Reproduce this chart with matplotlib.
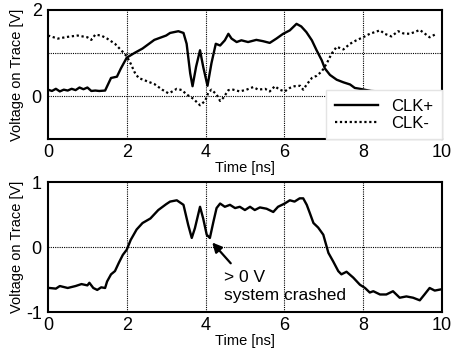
import matplotlib
matplotlib.use('Agg')
import matplotlib.pyplot as plt

plt.rcParams['font.family'] = ['Liberation Sans', 'DejaVu Sans']
plt.rcParams['axes.unicode_minus'] = False

# top plot: differential clock traces
clkp_t = [0.0, 0.1, 0.2, 0.3, 0.4, 0.5, 0.6, 0.7, 0.8, 0.9, 1.0, 1.1, 1.2, 1.3, 1.45,
          1.6, 1.75, 1.85, 2.0, 2.2, 2.4, 2.7, 3.0, 3.1, 3.31, 3.44, 3.52, 3.61, 3.67,
          3.76, 3.86, 3.94, 4.05, 4.15, 4.26, 4.37, 4.49, 4.58, 4.66, 4.79, 4.91, 5.08,
          5.29, 5.46, 5.63, 5.8, 5.97, 6.14, 6.31, 6.43, 6.56, 6.7, 6.82, 6.95, 7.03,
          7.16, 7.33, 7.5, 7.67, 7.79, 7.92, 8.2, 8.6, 9.0, 9.5, 10.0]
clkp_v = [0.15, 0.12, 0.17, 0.11, 0.15, 0.13, 0.17, 0.14, 0.2, 0.16, 0.2, 0.12, 0.13, 0.12, 0.13,
          0.42, 0.45, 0.64, 0.89, 1.0, 1.1, 1.3, 1.4, 1.46, 1.5, 1.46, 1.21, 0.53, 0.23,
          0.68, 1.06, 0.68, 0.24, 0.76, 1.21, 1.17, 1.29, 1.44, 1.33, 1.25, 1.29, 1.25,
          1.3, 1.27, 1.23, 1.33, 1.44, 1.52, 1.67, 1.61, 1.48, 1.29, 1.06, 0.83, 0.64,
          0.49, 0.38, 0.32, 0.27, 0.19, 0.17, 0.12, 0.1, 0.11, 0.1, 0.1]

clkm_t = [0.0, 0.25, 0.5, 0.75, 1.0, 1.1, 1.2, 1.35, 1.5, 1.7, 1.9, 2.0, 2.1, 2.2,
          2.3, 2.5, 2.7, 2.9, 3.05, 3.1, 3.27, 3.4, 3.52, 3.69, 3.86, 3.99, 4.07, 4.15,
          4.28, 4.37, 4.45, 4.58, 4.7, 4.87, 5.04, 5.21, 5.34, 5.51, 5.63, 5.76, 5.88,
          6.01, 6.14, 6.26, 6.4, 6.48, 6.57, 6.7, 6.82, 6.95, 7.08, 7.2, 7.33, 7.5,
          7.67, 7.83, 8.0, 8.17, 8.3, 8.43, 8.55, 8.72, 8.89, 9.02, 9.18, 9.31, 9.44,
          9.56, 9.69, 9.82]
clkm_v = [1.4, 1.33, 1.37, 1.4, 1.36, 1.3, 1.42, 1.4, 1.33, 1.21, 1.02, 0.92, 0.75, 0.55,
          0.42, 0.35, 0.28, 0.15, 0.07, 0.08, 0.17, 0.14, 0.04, -0.06, -0.21, -0.11, 0.08, 0.15,
          0.04, -0.11, -0.04, 0.14, 0.15, 0.11, 0.15, 0.21, 0.15, 0.17, 0.11, 0.23, 0.15,
          0.11, 0.19, 0.23, 0.24, 0.15, 0.27, 0.42, 0.47, 0.57, 0.76, 0.98, 1.14, 1.08,
          1.21, 1.29, 1.36, 1.44, 1.48, 1.52, 1.44, 1.38, 1.5, 1.45, 1.44, 1.48, 1.53,
          1.45, 1.36, 1.42]

# bottom plot: differential voltage
diff_t = [0.0, 0.04, 0.2, 0.3, 0.5, 0.7, 0.85, 1.0, 1.05, 1.15, 1.25, 1.35, 1.45, 1.5,
          1.6, 1.7, 1.8, 1.9, 2.0, 2.1, 2.25, 2.4, 2.6, 2.8, 3.0, 3.1, 3.27, 3.44,
          3.56, 3.65, 3.73, 3.86, 3.94, 4.03, 4.11, 4.2, 4.28, 4.37, 4.49, 4.62, 4.75,
          4.87, 5.0, 5.13, 5.25, 5.38, 5.55, 5.72, 5.84, 6.01, 6.14, 6.26, 6.39, 6.48,
          6.57, 6.65, 6.74, 6.86, 6.99, 7.12, 7.24, 7.37, 7.45, 7.58, 7.75, 7.92, 8.05,
          8.17, 8.26, 8.43, 8.59, 8.76, 8.93, 9.1, 9.27, 9.44, 9.56, 9.69, 9.82, 9.99]
diff_v = [-0.63, -0.63, -0.64, -0.6, -0.63, -0.6, -0.57, -0.59, -0.55, -0.63, -0.66, -0.62, -0.63, -0.53,
          -0.42, -0.37, -0.24, -0.12, -0.04, 0.11, 0.27, 0.37, 0.44, 0.57, 0.66, 0.7, 0.72, 0.65,
          0.34, 0.14, 0.29, 0.62, 0.44, 0.19, 0.14, 0.39, 0.6, 0.67, 0.62, 0.65, 0.6,
          0.62, 0.57, 0.62, 0.57, 0.61, 0.59, 0.54, 0.62, 0.67, 0.72, 0.7, 0.75, 0.75,
          0.65, 0.52, 0.37, 0.3, 0.19, -0.09, -0.22, -0.37, -0.42, -0.38, -0.47, -0.58, -0.63,
          -0.7, -0.68, -0.73, -0.73, -0.68, -0.78, -0.76, -0.78, -0.82, -0.73, -0.63, -0.67, -0.65]

xticks = [0, 2, 4, 6, 8, 10]

fig = plt.figure(figsize=(4.59, 3.54), dpi=100)
ax1 = fig.add_axes([0.1046, 0.606, 0.858, 0.367])
ax2 = fig.add_axes([0.1046, 0.1186, 0.858, 0.367])

grid_kw = dict(color='black', linestyle=(0, (1, 1)), linewidth=0.8, zorder=1)

# top axes
for x in [2, 4, 6, 8]:
    ax1.axvline(x, **grid_kw)
for y in [0, 1]:
    ax1.axhline(y, **grid_kw)
ax1.plot(clkp_t, clkp_v, color='black', linewidth=1.7, label='CLK+', zorder=3)
ax1.plot(clkm_t, clkm_v, color='black', linewidth=1.6, linestyle=(0, (1, 1.2)),
         label='CLK-', zorder=3)
ax1.set_xlim(0, 10)
ax1.set_ylim(-1, 2)
ax1.set_xticks(xticks)
ax1.set_yticks([-1, 0, 1, 2])
ax1.set_yticklabels(['', '0', '', '2'])
ax1.set_xlabel('Time [ns]', fontsize=10.5, labelpad=0)
ax1.set_ylabel('Voltage on Trace [V]', fontsize=10.5)
leg = ax1.legend(loc='lower right', bbox_to_anchor=(1.0, 0.0), borderaxespad=0.0,
                 fontsize=12, frameon=True, fancybox=False, framealpha=1,
                 edgecolor='#e4e4e4', handlelength=2.6, labelspacing=0.15,
                 borderpad=0.5, handletextpad=0.8)
leg.set_zorder(5)

# bottom axes
for x in [2, 4, 6, 8]:
    ax2.axvline(x, **grid_kw)
ax2.axhline(0, **grid_kw)
ax2.plot(diff_t, diff_v, color='black', linewidth=1.7, zorder=3)
ax2.set_xlim(0, 10)
ax2.set_ylim(-1, 1)
ax2.set_xticks(xticks)
ax2.set_yticks([-1, 0, 1])
ax2.set_xlabel('Time [ns]', fontsize=10.5, labelpad=0)
ax2.set_ylabel('Voltage on Trace [V]', fontsize=10.5)
ax2.annotate('', xy=(4.17, 0.07), xytext=(4.64, -0.25),
             arrowprops=dict(arrowstyle='-|>', color='black', lw=1.6,
                             shrinkA=0, shrinkB=0, mutation_scale=14), zorder=4)
ax2.text(4.47, -0.6, '> 0 V\nsystem crashed', fontsize=12.5, ha='left',
         va='center', linespacing=1.25, zorder=4)

for ax in (ax1, ax2):
    ax.tick_params(length=0, labelsize=13)
    ax.tick_params(axis='y', pad=4.5)
    ax.tick_params(axis='x', pad=3.5)
    ax.yaxis.set_label_coords(-0.06, 0.5)
    for s in ax.spines.values():
        s.set_linewidth(1.5)

fig.savefig('out.png', dpi=100)
